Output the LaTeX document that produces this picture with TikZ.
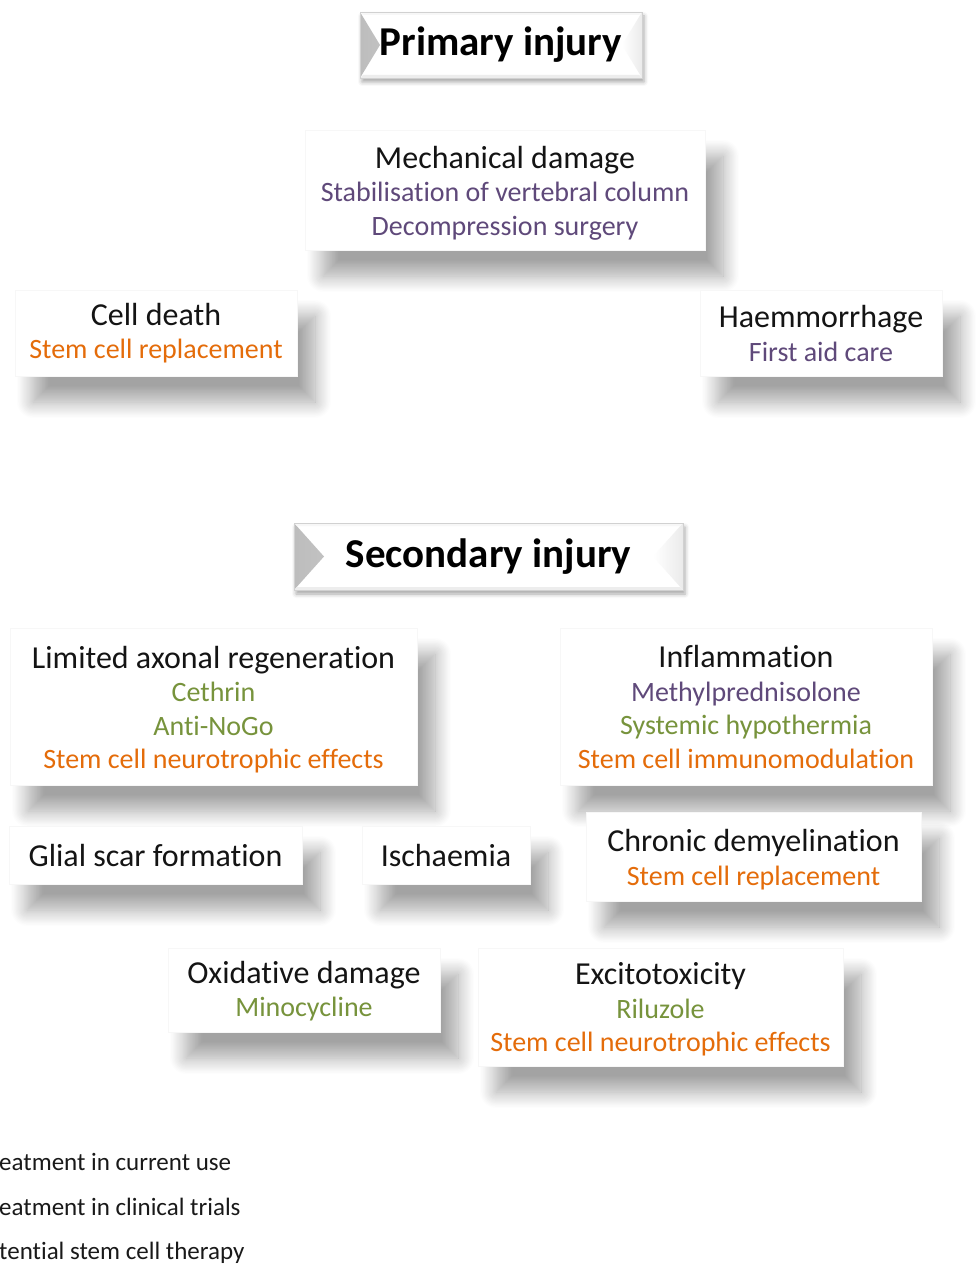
\documentclass[tikz,border=0pt]{standalone}
\usepackage{fontspec}
\setmainfont{Carlito}[Ligatures=NoCommon]
\usetikzlibrary{shadows.blur}
\definecolor{cpurple}{HTML}{5F497A}
\definecolor{cgreen}{HTML}{77933C}
\definecolor{corange}{HTML}{E46C0A}
\newcommand\Pur[1]{\textcolor{cpurple}{#1}}
\newcommand\Grn[1]{\textcolor{cgreen}{#1}}
\newcommand\Org[1]{\textcolor{corange}{#1}}
\newcommand\Hd[1]{{\fontsize{32}{33.5}\selectfont\rule{0pt}{28pt}#1}}
\newcommand\Hs[1]{{\fontsize{32}{33.5}\selectfont #1}}
\newcommand\Dp{\rule[-5.5pt]{0pt}{5.5pt}}
\begin{document}
\begin{tikzpicture}[x=1pt,y=-1pt,
  box/.style={fill=white, draw=black!3, line width=0.6pt, inner sep=0pt, align=center,
    font=\fontsize{28}{33.5}\selectfont, text=black!92,
    blur shadow={shadow xshift=18pt, shadow yshift=-26pt, shadow blur radius=16pt,
      shadow blur steps=14, shadow opacity=36}},
  titlebox/.style={fill=white, draw=black!18, line width=0.7pt, inner sep=0pt, align=center,
    font=\bfseries\fontsize{41}{44}\selectfont, text=black,
    blur shadow={shadow xshift=2pt, shadow yshift=-4pt, shadow blur radius=4pt, shadow opacity=35},
    path picture={
      \fill[left color=black!26, right color=white]
        (path picture bounding box.north west) -- ([xshift=#1]path picture bounding box.west)
        -- (path picture bounding box.south west) -- cycle;
      \fill[right color=black!8, left color=white]
        (path picture bounding box.north east) -- ([xshift=-#1]path picture bounding box.east)
        -- (path picture bounding box.south east) -- cycle;
      \fill[black!3] (path picture bounding box.north west) -- (path picture bounding box.north east)
        -- ([xshift=-3pt,yshift=-3pt]path picture bounding box.north east) -- ([xshift=3pt,yshift=-3pt]path picture bounding box.north west) -- cycle;
      \fill[black!7] (path picture bounding box.south west) -- (path picture bounding box.south east)
        -- ([xshift=-3pt,yshift=3pt]path picture bounding box.south east) -- ([xshift=3pt,yshift=3pt]path picture bounding box.south west) -- cycle;
    }},
  legend/.style={anchor=west, inner sep=0pt, font=\fontsize{25}{28}\selectfont, text=black!90}
]
\useasboundingbox (0,0) rectangle (976,1265);

% Primary injury
\node[titlebox=20pt, minimum width=282pt, minimum height=66pt] (primary) at (501,45) {Primary injury};

\node[box, minimum width=400pt, minimum height=120pt] (mech) at (505,190)
  {\Hd{Mechanical damage}\\ \Pur{Stabilisation of vertebral column}\\ \Pur{Decompression surgery}};
\node[box, minimum width=282pt, minimum height=86pt] (cell) at (156,333)
  {\Hd{Cell death}\\ \Org{Stem cell replacement}\rule[-10pt]{0pt}{0pt}};
\node[box, minimum width=242pt, minimum height=86pt] (haem) at (821,333)
  {\Hd{Haemmorrhage}\\ \Pur{First aid care}\Dp};

% Secondary injury
\node[titlebox=30pt, minimum width=389pt, minimum height=67pt] (secondary) at (488.5,556.5) {Secondary injury};

\node[box, minimum width=407pt, minimum height=157pt] (limited) at (213.5,706.5)
  {\Hd{Limited axonal regeneration}\\ \Grn{Cethrin}\\ \Grn{Anti-NoGo}\\ \Org{Stem cell neurotrophic effects}};
\node[box, minimum width=372pt, minimum height=157pt] (infl) at (746,706.5)
  {\Hd{Inflammation}\\ \Pur{Methylprednisolone}\\ \Grn{Systemic hypothermia}\\ \Org{Stem cell immunomodulation}\Dp};
\node[box, minimum width=293pt, minimum height=58pt] (glial) at (155.5,855)
  {\Hs{Glial scar formation}};
\node[box, minimum width=168pt, minimum height=58pt] (isch) at (446,855)
  {\Hs{Ischaemia}};
\node[box, minimum width=335pt, minimum height=89pt] (chron) at (753.5,856.5)
  {\Hd{Chronic demyelination}\\ \Org{Stem cell replacement}};
\node[box, minimum width=272pt, minimum height=84pt] (oxid) at (304,990)
  {\Hd{Oxidative damage}\\ \Grn{Minocycline}\rule[-8pt]{0pt}{0pt}};
\node[box, minimum width=365pt, minimum height=118pt] (excit) at (660.5,1007)
  {\Hd{Excitotoxicity}\\ \Grn{Riluzole}\\ \Org{Stem cell neurotrophic effects}\Dp};

% Legend (clipped at the left edge)
\node[legend] (leg1) at (-1,1162) {eatment in current use};
\node[legend] (leg2) at (-1,1207) {eatment in clinical trials};
\node[legend] (leg3) at (-1,1253) {tential stem cell therapy};
\end{tikzpicture}
\end{document}
